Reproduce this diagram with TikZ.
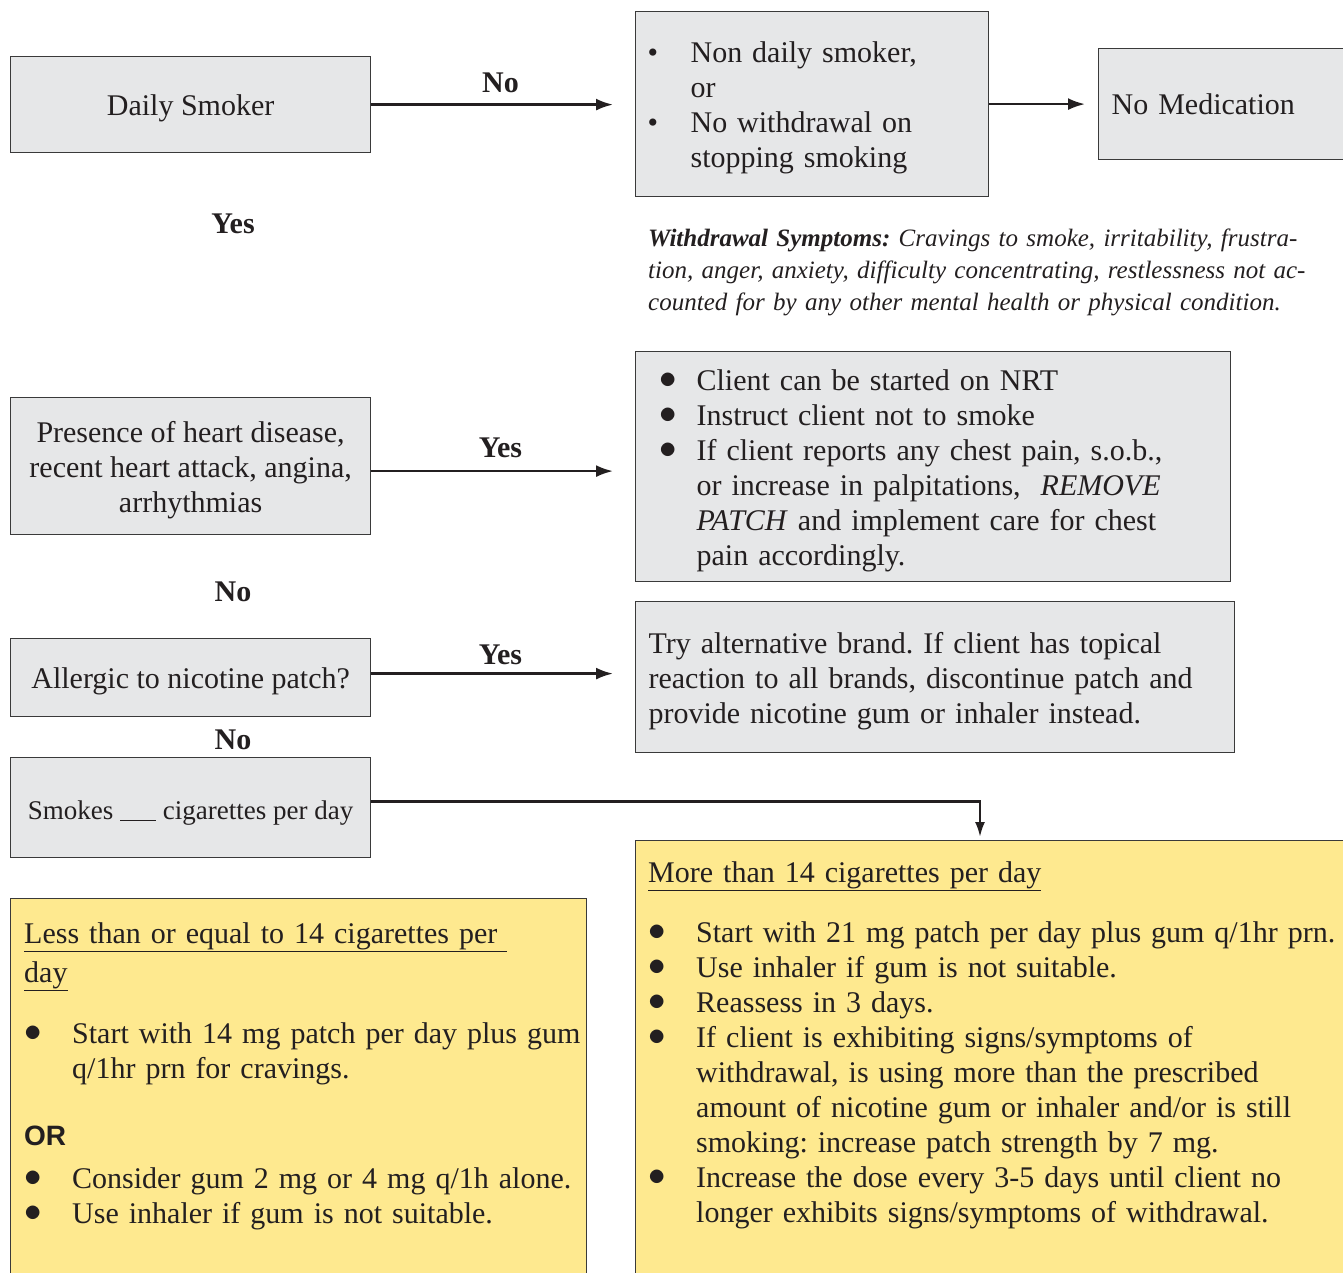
\documentclass[tikz,border=0pt]{standalone}
\usepackage{fontspec}
\setmainfont{Liberation Serif}
\newfontfamily\orfont{Liberation Sans}
\usetikzlibrary{arrows.meta,calc}
\definecolor{boxgray}{HTML}{E6E7E8}
\definecolor{boxline}{HTML}{3A3A3A}
\definecolor{yfill}{HTML}{FEE98F}
\definecolor{ink}{HTML}{231F20}
\frenchspacing
\newcommand{\Bs}[1]{\makebox[#1][l]{\textbullet}}
\newcommand{\Bu}[1]{\makebox[#1][l]{\raisebox{2pt}{\scalebox{1.4}{$\bullet$}}}}
\newcommand{\Ct}[1]{\hspace*{#1}}
\newcommand{\Tp}{\rule{0pt}{29pt}}
\begin{document}
\begin{tikzpicture}[x=1pt,y=-1pt,
  every node/.style={text=ink},
  gbox/.style={draw=boxline, line width=1.2pt, fill=boxgray, anchor=north west,
    inner sep=0pt, font=\fontsize{30}{35}\selectfont},
  ybx/.style={draw=boxline, line width=1.2pt, fill=yfill, anchor=north west, inner sep=0pt},
  tblock/.style={anchor=north west, inner sep=0pt, align=left, font=\fontsize{30}{35}\selectfont},
  arr/.style={line width=2.4pt, draw=ink, -{Latex[length=17pt,width=12pt]}},
  arrdown/.style={line width=2.4pt, draw=ink, -{Latex[length=15pt,width=10pt]}},
  lab/.style={font=\bfseries\fontsize{30}{35}\selectfont, inner sep=0pt},
  vlab/.style={font=\bfseries\fontsize{30}{35}\selectfont, inner sep=0pt}
]
\useasboundingbox (0,0) rectangle (1343,1272);
\clip (0,0) rectangle (1343,1272);

% gray boxes
\node[gbox, minimum width=360pt, minimum height=96pt] (ds) at (10,56) {\Tp Daily Smoker};
\node[gbox, minimum width=353pt, minimum height=185pt, inner xsep=12pt, text width=329pt, align=left] (nd) at (635,11)
 {\Tp\Bs{43pt}Non daily smoker,\\ \Ct{43pt}or\\ \Bs{43pt}No withdrawal on\\ \Ct{43pt}stopping smoking};
\node[gbox, minimum width=262pt, minimum height=111pt, inner xsep=13pt, text width=236pt, align=left] (nm) at (1098,48) {No Medication};

\node[tblock, font=\itshape\fontsize{25}{32}\selectfont, text width=670pt] (wd) at (648,224)
 {\strut\makebox[657pt][s]{\textbf{Withdrawal Symptoms:} Cravings to smoke, irritability, frustra-}\\
  \makebox[657pt][s]{tion, anger, anxiety, difficulty concentrating, restlessness not ac-}\\
  counted for by any other mental health or physical condition.};

\node[gbox, minimum width=360pt, minimum height=137pt, align=center] (hd) at (10,397)
 {\Tp Presence of heart disease,\\recent heart attack, angina,\\arrhythmias};
\node[gbox, minimum width=595pt, minimum height=230pt, inner xsep=24pt, text width=547pt, align=left] (nrt) at (635,351)
 {\Tp\Bu{37pt}Client can be started on NRT\\
  \Bu{37pt}Instruct client not to smoke\\
  \Bu{37pt}If client reports any chest pain, s.o.b.,\\
  \Ct{37pt}or increase in palpitations, \ \textit{REMOVE}\\
  \Ct{37pt}\textit{PATCH} and implement care for chest\\
  \Ct{37pt}pain accordingly.};

\node[gbox, minimum width=360pt, minimum height=78pt] (al) at (10,638) {\Tp Allergic to nicotine patch?};
\node[gbox, minimum width=599pt, minimum height=151pt, inner xsep=13pt, text width=573pt, align=left] (ta) at (635,601)
 {\Tp Try alternative brand. If client has topical\\
  reaction to all brands, discontinue patch and\\
  provide nicotine gum or inhaler instead.};

\node[gbox, minimum width=360pt, minimum height=100pt, font=\fontsize{27}{35}\selectfont] (sm) at (10,757)
 {\Tp Smokes \underline{\hspace{36pt}} cigarettes per day};

% yellow boxes
\node[ybx, minimum width=576pt, minimum height=420pt] (yl) at (10,898) {};
\node[ybx, minimum width=760pt, minimum height=480pt] (yr) at (635,840) {};

\node[tblock, text width=560pt] (ylt) at (24,918.5)
 {\strut\underline{Less than or equal to 14 cigarettes per }\\[4pt]
  \underline{day}\\[26pt]
  \Bu{48pt}Start with 14 mg patch per day plus gum\\
  \Ct{48pt}q/1hr prn for cravings.\\[32pt]
  {\orfont\bfseries\fontsize{28}{35}\selectfont OR}\\[8pt]
  \Bu{48pt}Consider gum 2 mg or 4 mg q/1h alone.\\
  \Bu{48pt}Use inhaler if gum is not suitable.};

\node[tblock, text width=690pt] (yrt) at (648,857.5)
 {\strut\underline{More than 14 cigarettes per day}\\[25pt]
  \Bu{48pt}Start with 21 mg patch per day plus gum q/1hr prn.\\
  \Bu{48pt}Use inhaler if gum is not suitable.\\
  \Bu{48pt}Reassess in 3 days.\\
  \Bu{48pt}If client is exhibiting signs/symptoms of\\
  \Ct{48pt}withdrawal, is using more than the prescribed\\
  \Ct{48pt}amount of nicotine gum or inhaler and/or is still\\
  \Ct{48pt}smoking: increase patch strength by 7 mg.\\
  \Bu{48pt}Increase the dose every 3-5 days until client no\\
  \Ct{48pt}longer exhibits signs/symptoms of withdrawal.};

% vertical labels
\node[vlab] (l1) at (233,224) {Yes};
\node[vlab] (l2) at (233,592) {No};
\node[vlab] (l3) at (233,740) {No};

% connectors
\draw[arr, shorten >=22pt] (ds.east) -- node[lab, pos=0.49, above=11pt]{No} (ds.east -| nd.west);
\draw[arr, shorten >=13pt] (nd.east) -- (nd.east -| nm.west);
\draw[arr, shorten >=22pt] ([yshift=-5pt]hd.east) -- node[lab, pos=0.49, above=12pt]{Yes} ([yshift=-5pt]hd.east -| nrt.west);
\draw[arr, shorten >=22pt] ([yshift=4pt]al.east) -- node[lab, pos=0.49, above=8pt]{Yes} ([yshift=4pt]al.east -| ta.west);
\draw[arrdown, shorten >=3pt] ([yshift=6pt]sm.east) -| ([xshift=345pt]yr.north west);
\end{tikzpicture}
\end{document}
